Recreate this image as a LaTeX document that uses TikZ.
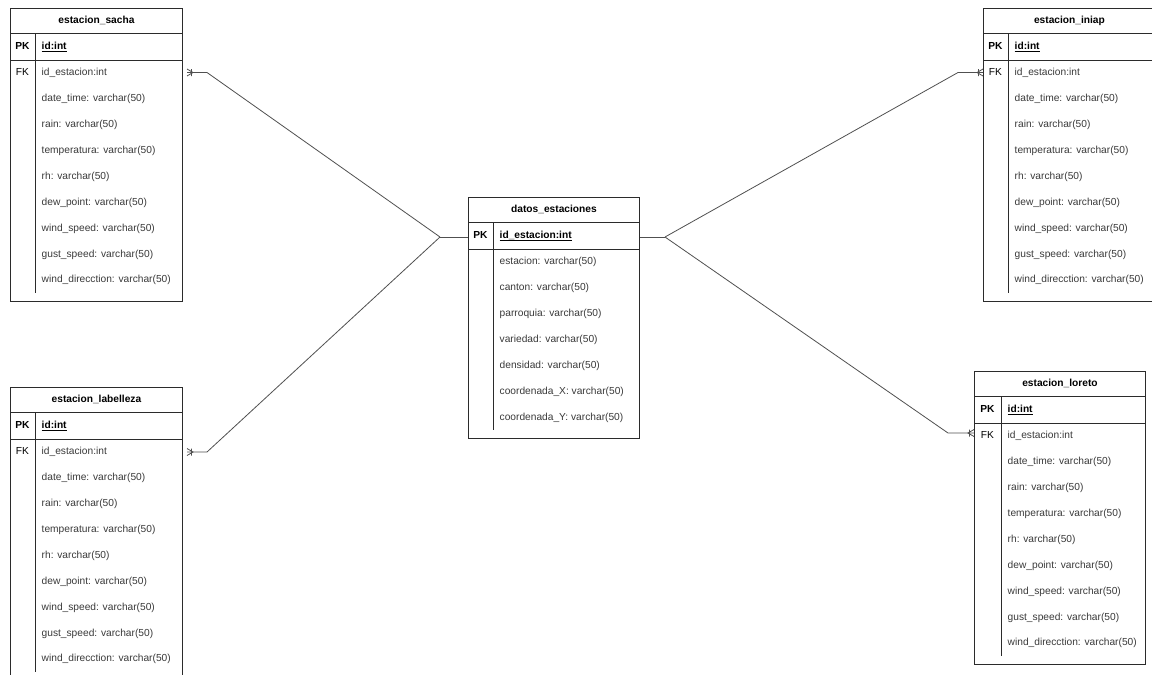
\documentclass[tikz,border=0pt]{standalone}
\usepackage{fontspec}
\setmainfont{Liberation Sans}
\definecolor{linec}{HTML}{2B2B2B}
\definecolor{connc}{HTML}{505050}
\definecolor{rowc}{HTML}{3A3A3A}
\newlength\ulw
\newcommand\pkul[1]{\settowidth\ulw{#1}\rlap{\rule[-1.8pt]{\ulw}{0.7pt}}#1}
\tikzset{
  tablebox/.style={draw=linec, line width=0.9pt, fill=white, inner sep=0pt, rectangle},
  tableline/.style={draw=linec, line width=0.9pt},
  titletext/.style={font=\fontsize{10.2}{12}\selectfont\bfseries, text=black, inner sep=0pt, text height=7.5pt, text depth=2pt},
  keytext/.style={font=\fontsize{10.2}{12}\selectfont, text=black, inner sep=0pt, text height=7.5pt, text depth=2pt},
  pkfield/.style={font=\fontsize{10.2}{12}\selectfont\bfseries, text=black, inner sep=0pt, anchor=west, text height=7.5pt, text depth=2pt},
  rowtext/.style={font=\fontsize{10.2}{12}\selectfont, text=rowc, inner sep=0pt, anchor=west, text height=7.5pt, text depth=2pt},
  conn/.style={draw=connc, line width=0.8pt},
}
% #1 name, #2 left, #3 top, #4 width, #5 divider offset, #6 number of rows, #7 title, #8 pk field, #9 row list macro
\newcommand\ertable[9]{%
  \pgfmathsetmacro\tabH{86+25.9*(#6-1)}%
  \pgfmathsetmacro\divE{\tabH-8}%
  \node[tablebox, minimum width=#4pt, minimum height=\tabH pt, anchor=north west] (#1) at (#2,#3) {};
  \draw[tableline] ([yshift=-25.5pt]#1.north west) -- ([yshift=-25.5pt]#1.north east);
  \draw[tableline] ([yshift=-52pt]#1.north west) -- ([yshift=-52pt]#1.north east);
  \draw[tableline] ([shift={(#5pt,-25.5pt)}]#1.north west) -- ([shift={(#5pt,-\divE pt)}]#1.north west);
  \node[titletext] (#1-t) at ([yshift=-12.75pt]#1.north) {#7};
  \node[titletext] (#1-pklabel) at ([shift={({#5pt/2},-39pt)}]#1.north west) {PK};
  \node[pkfield] (#1-pk) at ([shift={({#5pt+6.5pt},-39pt)}]#1.north west) {\pkul{#8}};
  \foreach \r [count=\i from 0] in #9 {
    \pgfmathsetmacro\ry{65+25.9*\i}
    \node[rowtext] (#1-r\i) at ([shift={({#5pt+6.5pt},-\ry pt)}]#1.north west) {\r};
  }
}
\newcommand\ermark[2]{\draw[conn, shift={(#1)}, xscale=#2] (0,-3.5) -- (6,0) -- (0,3.5) (4.5,-3.5) -- (4.5,3.5);}
\newcommand\stdrows{id\_estacion:int, date\_time: varchar(50), rain: varchar(50), temperatura: varchar(50), rh: varchar(50), dew\_point: varchar(50), wind\_speed: varchar(50), gust\_speed: varchar(50), wind\_direcction: varchar(50)}
\newcommand\datosrows{estacion: varchar(50), canton: varchar(50), parroquia: varchar(50), variedad: varchar(50), densidad: varchar(50), coordenada\_X: varchar(50), coordenada\_Y: varchar(50)}
\begin{document}
\begin{tikzpicture}[x=1pt, y=-1pt]
  \fill[white] (0,0) rectangle (1152,675);
  \path[use as bounding box, clip] (0,0) rectangle (1152,675);

  % connector junctions
  \coordinate (jl) at (440,237);
  \coordinate (jr) at (665,237);
  \coordinate (sacha-e) at (187,72.5);
  \coordinate (sacha-b) at (207,72.5);
  \coordinate (belleza-e) at (187,452);
  \coordinate (belleza-b) at (207,452);
  \coordinate (iniap-b) at (958,72.5);
  \coordinate (loreto-b) at (948,433);

  \ertable{sacha}{10}{8}{172}{25}{9}{estacion\_sacha}{id:int}{\stdrows}
  \ertable{belleza}{10}{387}{172}{25}{9}{estacion\_labelleza}{id:int}{\stdrows}
  \ertable{datos}{468}{197}{171}{25}{7}{datos\_estaciones}{id\_estacion:int}{\datosrows}
  \ertable{iniap}{983}{8}{172}{25}{9}{estacion\_iniap}{id:int}{\stdrows}
  \ertable{loreto}{974}{371}{171}{27}{9}{estacion\_loreto}{id:int}{\stdrows}

  % FK labels
  \node[keytext] (sacha-fk) at ([shift={(12.5pt,-65pt)}]sacha.north west) {FK};
  \node[keytext] (belleza-fk) at ([shift={(12.5pt,-65pt)}]belleza.north west) {FK};
  \node[keytext] (iniap-fk) at ([shift={(12.5pt,-65pt)}]iniap.north west) {FK};
  \node[keytext] (loreto-fk) at ([shift={(13.5pt,-65pt)}]loreto.north west) {FK};

  \coordinate (iniap-e) at (iniap.west |- iniap-b);
  \coordinate (loreto-e) at (loreto.west |- loreto-b);

  % connectors
  \draw[conn] (jl) -- (jl -| datos.west);
  \draw[conn] (datos.east |- jr) -- (jr);
  \draw[conn] (sacha-e) -- (sacha-b) -- (jl);
  \draw[conn] (belleza-e) -- (belleza-b) -- (jl);
  \draw[conn] (jr) -- (iniap-b) -- (iniap-e);
  \draw[conn] (jr) -- (loreto-b) -- (loreto-e);

  % one-or-many markers
  \ermark{sacha-e}{1}
  \ermark{belleza-e}{1}
  \ermark{iniap-e}{-1}
  \ermark{loreto-e}{-1}
\end{tikzpicture}
\end{document}
